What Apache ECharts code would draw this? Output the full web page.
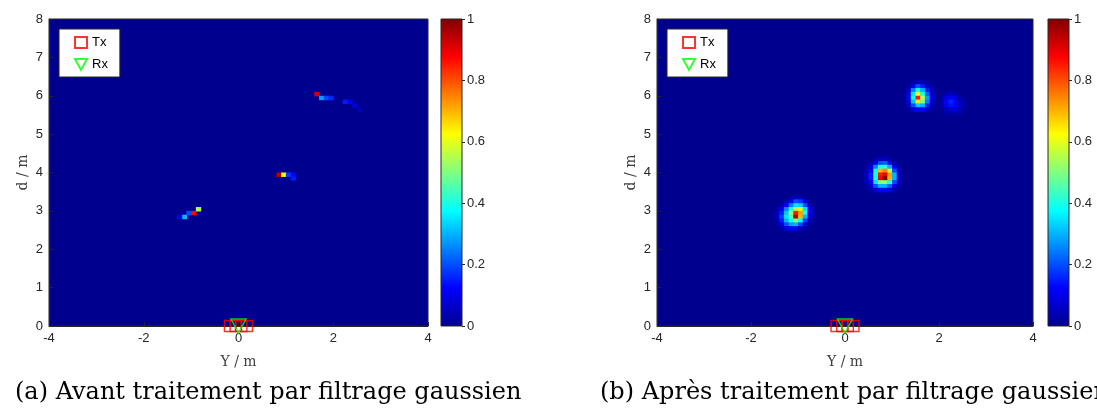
<!DOCTYPE html>
<html>
<head>
<meta charset="utf-8">
<script src="https://cdn.jsdelivr.net/npm/echarts@6/dist/echarts.min.js"></script>
<style>html,body{margin:0;padding:0;background:#fff}#c{width:1097px;height:414px}</style>
</head>
<body>
<div id="c"></div>
<script>
// ---- data ----
const jetColors = ['#00008F','#0000FF','#0080FF','#00FFFF','#80FF80','#FFFF00','#FF8000','#FF0000','#800000'];
const colorbarTicks = [0, 0.2, 0.4, 0.6, 0.8, 1];
const xTickRange = [-4, 4];
const yTickRange = [0, 8];
const captions = ['(a) Avant traitement par filtrage gaussien', '(b) Après traitement par filtrage gaussien'];
const txX = [-0.18, -0.06, 0.06, 0.18];
const txY = [0, 0, 0, 0];
const rxX = [0];
const rxY = [0];

// before filtering: sparse non-zero cells [Y, d, value]
const rawCells = [
  [-0.85, 3.05, 0.55], [-0.95, 2.95, 0.87], [-1.05, 2.95, 0.20], [-1.15, 2.85, 0.31], [-1.25, 2.85, 0.10],
  [0.85, 3.95, 0.95], [0.95, 3.95, 0.60], [1.05, 3.95, 0.18], [1.15, 3.95, 0.12], [1.15, 3.85, 0.15],
  [1.65, 6.05, 0.92], [1.75, 5.95, 0.28], [1.85, 5.95, 0.19], [1.95, 5.95, 0.16],
  [2.25, 5.85, 0.15], [2.35, 5.85, 0.10], [2.45, 5.75, 0.08], [2.55, 5.65, 0.05]
];

// after gaussian filtering: blobs as small matrices
const blobACols = [-1.45, -1.35, -1.25, -1.15, -1.05, -0.95, -0.85, -0.75];
const blobARows = [3.35, 3.25, 3.15, 3.05, 2.95, 2.85, 2.75, 2.65, 2.55];
const blobAVals = [
  [0, 0, 0, 0.02, 0.05, 0.04, 0, 0],
  [0, 0, 0.03, 0.12, 0.20, 0.18, 0.08, 0],
  [0, 0.03, 0.12, 0.25, 0.35, 0.33, 0.20, 0.05],
  [0.02, 0.10, 0.25, 0.40, 0.55, 0.60, 0.35, 0.10],
  [0.05, 0.15, 0.32, 0.50, 0.85, 0.72, 0.40, 0.12],
  [0.05, 0.18, 0.35, 0.45, 0.95, 0.70, 0.30, 0.08],
  [0.04, 0.15, 0.30, 0.40, 0.50, 0.38, 0.18, 0.04],
  [0.02, 0.08, 0.20, 0.28, 0.30, 0.20, 0.08, 0],
  [0, 0.03, 0.08, 0.12, 0.12, 0.06, 0.02, 0]
];
const blobBCols = [0.45, 0.55, 0.65, 0.75, 0.85, 0.95, 1.05, 1.15, 1.25];
const blobBRows = [4.35, 4.25, 4.15, 4.05, 3.95, 3.85, 3.75, 3.65, 3.55];
const blobBVals = [
  [0, 0, 0.03, 0.06, 0.06, 0.03, 0, 0, 0],
  [0, 0.03, 0.10, 0.20, 0.22, 0.12, 0.04, 0, 0],
  [0.02, 0.08, 0.25, 0.40, 0.42, 0.30, 0.10, 0.02, 0],
  [0.03, 0.12, 0.38, 0.70, 0.75, 0.55, 0.20, 0.05, 0],
  [0.04, 0.15, 0.42, 0.85, 0.90, 0.72, 0.30, 0.06, 0],
  [0.04, 0.15, 0.40, 0.88, 1.00, 0.70, 0.30, 0.06, 0],
  [0.03, 0.12, 0.35, 0.50, 0.52, 0.40, 0.20, 0.05, 0],
  [0.02, 0.06, 0.20, 0.30, 0.30, 0.22, 0.10, 0.02, 0],
  [0, 0.02, 0.08, 0.12, 0.12, 0.08, 0.03, 0, 0]
];
const blobCCols = [1.35, 1.45, 1.55, 1.65, 1.75, 1.85, 1.95];
const blobCRows = [6.35, 6.25, 6.15, 6.05, 5.95, 5.85, 5.75, 5.65];
const blobCVals = [
  [0, 0.02, 0.05, 0.04, 0.02, 0, 0],
  [0.02, 0.10, 0.20, 0.15, 0.06, 0.02, 0],
  [0.05, 0.25, 0.38, 0.30, 0.15, 0.04, 0],
  [0.08, 0.35, 0.62, 0.40, 0.22, 0.06, 0],
  [0.10, 0.38, 0.85, 0.55, 0.28, 0.08, 0],
  [0.08, 0.32, 0.65, 0.50, 0.25, 0.06, 0],
  [0.05, 0.20, 0.32, 0.30, 0.15, 0.04, 0],
  [0.02, 0.08, 0.12, 0.12, 0.06, 0.02, 0]
];
const blobDCols = [2.05, 2.15, 2.25, 2.35, 2.45, 2.55];
const blobDRows = [6.05, 5.95, 5.85, 5.75, 5.65, 5.55];
const blobDVals = [
  [0, 0.03, 0.05, 0.03, 0, 0],
  [0.02, 0.08, 0.12, 0.08, 0.03, 0],
  [0.03, 0.12, 0.16, 0.12, 0.05, 0.02],
  [0.02, 0.10, 0.14, 0.12, 0.06, 0.02],
  [0, 0.05, 0.08, 0.08, 0.05, 0.02],
  [0, 0.02, 0.03, 0.03, 0.02, 0]
];

// ---- build ----
function flatten(cols, rows, vals) {
  const out = [];
  rows.forEach((y, i) => cols.forEach((x, j) => { if (vals[i][j] > 0) out.push([x, y, vals[i][j]]); }));
  return out;
}
const filteredCells = [].concat(
  flatten(blobACols, blobARows, blobAVals),
  flatten(blobBCols, blobBRows, blobBVals),
  flatten(blobCCols, blobCRows, blobCVals),
  flatten(blobDCols, blobDRows, blobDVals)
);

const CELL = 0.1;
const AX = '#262626';
const tickFont = { fontFamily: '"Liberation Sans", Arial, sans-serif', fontSize: 13, color: AX };
const nameFont = { fontFamily: '"DejaVu Serif", serif', fontSize: 14, color: '#404040' };

function cellItem(params, api) {
  const x = api.value(0), y = api.value(1);
  const p0 = api.coord([x - CELL / 2, y + CELL / 2]);
  const p1 = api.coord([x + CELL / 2, y - CELL / 2]);
  return { type: 'rect', shape: { x: p0[0], y: p0[1], width: p1[0] - p0[0] + 0.6, height: p1[1] - p0[1] + 0.6 },
           style: { fill: api.visual('color') } };
}
function colorbarItem(params, api) {
  const p0 = api.coord([0, 1]);
  const p1 = api.coord([1, 0]);
  const stops = jetColors.map((c, i) => ({ offset: i / (jetColors.length - 1), color: c }));
  return { type: 'rect', shape: { x: p0[0], y: p0[1], width: p1[0] - p0[0], height: p1[1] - p0[1] },
           style: { fill: { type: 'linear', x: 0, y: 1, x2: 0, y2: 0, colorStops: stops }, stroke: AX, lineWidth: 1 } };
}

const mainGrids = [
  { left: 49, top: 19, width: 379, height: 307 },
  { left: 657, top: 19, width: 376, height: 307 }
];
const cbGrids = [
  { left: 441, top: 19, width: 21, height: 307 },
  { left: 1048, top: 19, width: 21, height: 307 }
];

const grid = [], xAxis = [], yAxis = [], series = [], legend = [];
mainGrids.forEach((g, k) => {
  grid.push(Object.assign({ show: true, backgroundColor: jetColors[0], borderColor: AX, borderWidth: 1 }, g));
  xAxis.push({ type: 'value', gridIndex: k, min: xTickRange[0], max: xTickRange[1], interval: 2,
    name: 'Y / m', nameLocation: 'middle', nameGap: 29, nameTextStyle: nameFont,
    axisLine: { show: true, onZero: false, lineStyle: { color: AX } },
    axisTick: { show: true, inside: true, length: 4, lineStyle: { color: AX } },
    axisLabel: Object.assign({ margin: 6 }, tickFont), splitLine: { show: false } });
  yAxis.push({ type: 'value', gridIndex: k, min: yTickRange[0], max: yTickRange[1], interval: 1,
    name: 'd / m', nameLocation: 'middle', nameGap: 19, nameTextStyle: nameFont, nameRotate: 90,
    axisLine: { show: true, onZero: false, lineStyle: { color: AX } },
    axisTick: { show: true, inside: true, length: 4, lineStyle: { color: AX } },
    axisLabel: Object.assign({ margin: 6 }, tickFont), splitLine: { show: false } });
});
cbGrids.forEach((g, k) => {
  grid.push(Object.assign({ show: false }, g));
  xAxis.push({ type: 'value', gridIndex: 2 + k, min: 0, max: 1, show: false });
  yAxis.push({ type: 'value', gridIndex: 2 + k, min: colorbarTicks[0], max: colorbarTicks[colorbarTicks.length - 1],
    interval: colorbarTicks[1] - colorbarTicks[0], position: 'right',
    axisLine: { show: false, onZero: false }, axisTick: { show: true, inside: false, length: 3, lineStyle: { color: AX } },
    axisLabel: Object.assign({ margin: 5 }, tickFont), splitLine: { show: false } });
});

series.push({ type: 'custom', name: 'raw', xAxisIndex: 0, yAxisIndex: 0, data: rawCells, renderItem: cellItem,
  encode: { x: 0, y: 1 }, clip: true, silent: true });
series.push({ type: 'custom', name: 'filtered', xAxisIndex: 1, yAxisIndex: 1, data: filteredCells, renderItem: cellItem,
  encode: { x: 0, y: 1 }, clip: true, silent: true });
series.push({ type: 'custom', xAxisIndex: 2, yAxisIndex: 2, data: [[0, 0]], renderItem: colorbarItem, silent: true });
series.push({ type: 'custom', xAxisIndex: 3, yAxisIndex: 3, data: [[0, 0]], renderItem: colorbarItem, silent: true });

const downTri = 'path://M0,0L10,0L5,9Z';
[0, 1].forEach(k => {
  series.push({ type: 'scatter', name: 'Tx', xAxisIndex: k, yAxisIndex: k, clip: false, z: 5,
    symbol: 'rect', symbolSize: 11, data: txX.map((x, i) => [x, txY[i]]),
    itemStyle: { color: 'rgba(0,0,0,0)', borderColor: '#FF0000', borderWidth: 1.5 } });
  series.push({ type: 'scatter', name: 'Rx', xAxisIndex: k, yAxisIndex: k, clip: false, z: 6,
    symbol: downTri, symbolSize: [15, 14], data: rxX.map((x, i) => [x, rxY[i]]),
    itemStyle: { color: 'rgba(0,0,0,0)', borderColor: '#00FF00', borderWidth: 1.5 } });
  legend.push({ left: mainGrids[k].left + 10, top: 29, orient: 'vertical', selectedMode: false,
    backgroundColor: '#fff', borderColor: AX, borderWidth: 1, borderRadius: 0,
    padding: [7, 12, 6, 15], itemGap: 9, itemWidth: 12, itemHeight: 11,
    textStyle: { fontFamily: '"Liberation Sans", Arial, sans-serif', fontSize: 13, color: '#000' },
    data: [{ name: 'Tx', icon: 'rect' }, { name: 'Rx', icon: downTri }] });
});

const chart = echarts.init(document.getElementById('c'), null, { renderer: 'canvas' });
chart.setOption({
  animation: false,
  backgroundColor: '#fff',
  grid, xAxis, yAxis, series, legend,
  visualMap: { show: false, type: 'continuous', min: 0, max: 1, dimension: 2, seriesIndex: [0, 1],
    inRange: { color: jetColors } },
  graphic: [
    { type: 'text', left: 15, top: 381, style: { text: captions[0], font: '24px "DejaVu Serif", serif', fill: '#000' } },
    { type: 'text', left: 600, top: 381, style: { text: captions[1], font: '24px "DejaVu Serif", serif', fill: '#000' } }
  ]
});
</script>
</body>
</html>
